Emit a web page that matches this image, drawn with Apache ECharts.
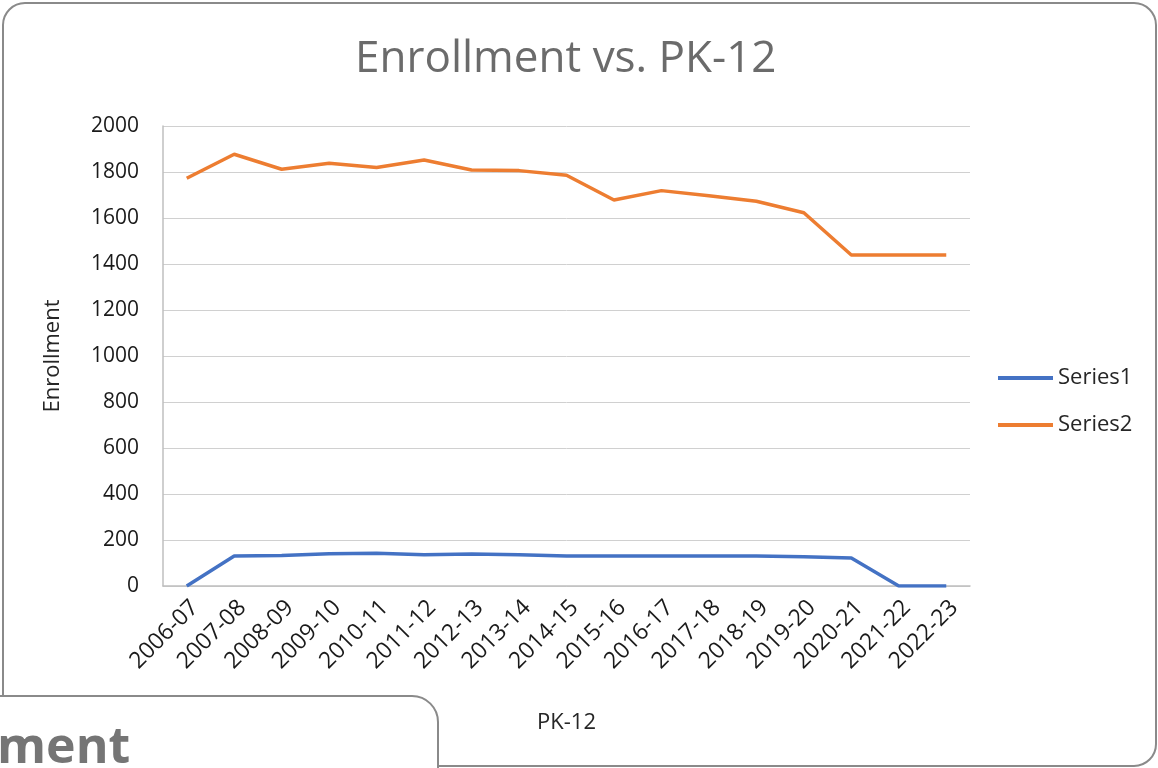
<!DOCTYPE html>
<html>
<head>
<meta charset="utf-8">
<script src="https://cdn.jsdelivr.net/npm/echarts@6/dist/echarts.min.js"></script>
<style>
  html, body { margin: 0; padding: 0; background: #fff; }
  #chart { width: 1158px; height: 768px; }
</style>
</head>
<body>
<div id="chart"></div>
<script>
// school years on the x axis
const years = ['2006-07', '2007-08', '2008-09', '2009-10', '2010-11', '2011-12', '2012-13', '2013-14',
  '2014-15', '2015-16', '2016-17', '2017-18', '2018-19', '2019-20', '2020-21', '2021-22', '2022-23'];
const series1 = [0, 130, 133, 140, 142, 136, 139, 136, 130, 130, 130, 130, 130, 127, 122, 0, 0];
const series2 = [1773, 1877, 1812, 1838, 1820, 1852, 1809, 1806, 1786, 1678, 1719, 1697, 1673, 1623, 1439, 1439, 1439];
const yTicks = { min: 0, max: 2000, interval: 200 };

const font = '"Open Sans", "Noto Sans", sans-serif';
const chart = echarts.init(document.getElementById('chart'));

chart.setOption({
  animation: false,
  textStyle: { fontFamily: font },
  title: {
    text: 'Enrollment vs. PK-12',
    left: 350, top: 32,
    textStyle: { fontSize: 44, fontWeight: 'normal', color: '#6b6b6b', fontFamily: font }
  },
  legend: {
    orient: 'vertical', left: 993, top: 361,
    itemWidth: 55, itemHeight: 4, itemGap: 23,
    icon: 'rect',
    textStyle: { fontSize: 22, lineHeight: 24, color: '#262626', padding: [0, 0, 0, 0] },
    data: ['Series1', 'Series2']
  },
  grid: { left: 163, right: 188, top: 126, bottom: 182 },
  xAxis: {
    type: 'category',
    data: years,
    boundaryGap: true,
    name: 'PK-12', nameLocation: 'middle', nameGap: 126,
    nameTextStyle: { fontSize: 22, color: '#262626' },
    axisLine: { lineStyle: { color: '#bfbfbf', width: 1.5 } },
    axisTick: { show: false },
    axisLabel: { rotate: 45, fontSize: 23, color: '#1a1a1a', margin: 10,
      interval: 0, align: 'right', verticalAlign: 'top' }
  },
  yAxis: {
    type: 'value',
    min: yTicks.min, max: yTicks.max, interval: yTicks.interval,
    name: 'Enrollment', nameLocation: 'middle', nameGap: 99, nameRotate: 90,
    nameTextStyle: { fontSize: 22, color: '#262626' },
    axisLine: { show: true, lineStyle: { color: '#bfbfbf', width: 1.5 } },
    axisTick: { show: false },
    axisLabel: { fontSize: 21, color: '#1a1a1a', margin: 24, formatter: v => String(v) },
    splitLine: { lineStyle: { color: '#d0d0d0', width: 1 } }
  },
  series: [
    { name: 'Series1', type: 'line', data: series1, symbol: 'none',
      lineStyle: { color: '#4472c4', width: 3.5 }, itemStyle: { color: '#4472c4' } },
    { name: 'Series2', type: 'line', data: series2, symbol: 'none',
      lineStyle: { color: '#ed7d31', width: 3.5 }, itemStyle: { color: '#ed7d31' } }
  ],
  graphic: [
    // outer rounded frame
    { type: 'rect', z: -1, shape: { x: 3, y: 3, width: 1153, height: 763, r: 22 },
      style: { fill: 'none', stroke: '#8a8a8a', lineWidth: 2 } },
    // overlapping box bottom-left
    { type: 'rect', z: 10, shape: { x: -20, y: 696, width: 458, height: 120, r: [0, 26, 0, 0] },
      style: { fill: '#fff', stroke: '#8a8a8a', lineWidth: 2 } },
    { type: 'text', z: 11, left: -3, top: 724,
      style: { text: 'ment', font: 'bold 50px "Open Sans", "Noto Sans", sans-serif', fill: '#757575' } }
  ]
});
</script>
</body>
</html>
